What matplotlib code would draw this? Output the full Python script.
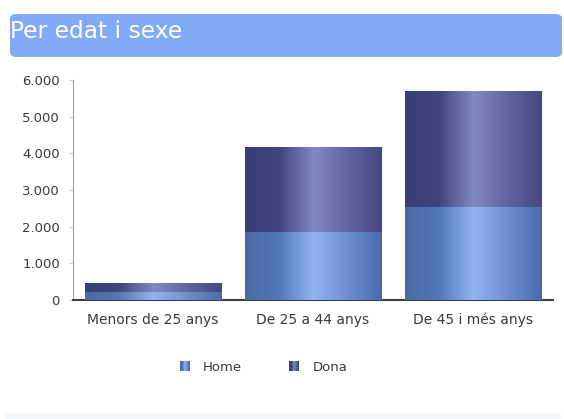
import numpy as np
import matplotlib
matplotlib.use("Agg")
import matplotlib.pyplot as plt
from matplotlib.patches import FancyBboxPatch, Rectangle
from matplotlib.legend_handler import HandlerBase
from matplotlib.colors import LinearSegmentedColormap

categories = ["Menors de 25 anys", "De 25 a 44 anys", "De 45 i més anys"]
home = [230, 1845, 2530]
dona = [240, 2300, 3150]
series_names = ["Home", "Dona"]
yticks = [0, 1000, 2000, 3000, 4000, 5000, 6000]
title = "Per edat i sexe"

home_stops = [(0.0, "#4a68a6"), (0.25, "#5478b8"), (0.5, "#93b4f2"), (0.8, "#6688c8"), (1.0, "#4c6aa8")]
dona_stops = [(0.0, "#3b3e76"), (0.25, "#40447c"), (0.5, "#8088c2"), (0.8, "#5a5f9a"), (1.0, "#44477f")]

cmap_home = LinearSegmentedColormap.from_list("home", home_stops)
cmap_dona = LinearSegmentedColormap.from_list("dona", dona_stops)

fig = plt.figure(figsize=(5.64, 4.19), dpi=100)
fig.patch.set_facecolor("white")

# Title banner
banner = FancyBboxPatch((10 / 564, 1 - 57 / 419), 552 / 564, 43 / 419,
                        boxstyle="round,pad=0,rounding_size=0.012",
                        transform=fig.transFigure, facecolor="#82aaf6",
                        edgecolor="none")
fig.patches.append(banner)
fig.text(10 / 564, 1 - 32 / 419, title, color="white", fontsize=16.8,
         va="center", ha="left", family="DejaVu Sans")

# bottom faint band
fig.patches.append(Rectangle((5 / 564, 0), 556 / 564, 6 / 419,
                             transform=fig.transFigure, facecolor="#f2f8fc",
                             edgecolor="none"))

ax = fig.add_axes([72.5 / 564, 119 / 419, 481 / 564, 220 / 419])
x = np.arange(len(categories))
width = 0.85
b1 = ax.bar(x, home, width, color="#6688c8", label=series_names[0], zorder=2)
b2 = ax.bar(x, dona, width, bottom=home, color="#5a5f9a", label=series_names[1], zorder=2)

grad = np.linspace(0, 1, 256).reshape(1, -1)
for bars, cmap in ((b1, cmap_home), (b2, cmap_dona)):
    for r in bars:
        x0, y0 = r.get_xy()
        w, h = r.get_width(), r.get_height()
        ax.imshow(grad, cmap=cmap, extent=[x0, x0 + w, y0, y0 + h],
                  aspect="auto", zorder=3, interpolation="bilinear")

ax.set_xlim(-0.5, 2.5)
ax.set_ylim(0, 6000)
ax.set_yticks(yticks)
ax.set_yticklabels([f"{v:,}".replace(",", ".") for v in yticks])
ax.set_xticks(x)
ax.set_xticklabels(categories)
ax.tick_params(axis="both", colors="#d0d0d0", labelcolor="#3a3a3a", labelsize=9.5)
ax.tick_params(axis="x", length=0, pad=9, labelsize=10)
ax.tick_params(axis="y", length=3, pad=6)
for s in ("top", "right"):
    ax.spines[s].set_visible(False)
ax.spines["left"].set_color("#a0a0a0")
ax.spines["bottom"].set_color("#404040")
ax.spines["bottom"].set_linewidth(1.5)


class GradHandler(HandlerBase):
    def __init__(self, cmap):
        super().__init__()
        self.cmap = cmap

    def create_artists(self, legend, orig_handle, xdescent, ydescent, width, height, fontsize, trans):
        n = 10
        arts = []
        side = height * 1.1
        x0 = width - side
        for i in range(n):
            r = Rectangle((x0 + i * side / n - xdescent, -ydescent - 0.05 * height), side / n + 0.1, side,
                          facecolor=self.cmap(i / (n - 1)), edgecolor="none", transform=trans)
            arts.append(r)
        return arts


leg = fig.legend([b1, b2], series_names, loc="center", bbox_to_anchor=(262 / 564, 1 - 367 / 419),
                 ncol=2, frameon=False, fontsize=9.5, handlelength=1.0, handletextpad=1.0,
                 columnspacing=3.3,
                 handler_map={b1: GradHandler(cmap_home), b2: GradHandler(cmap_dona)})
for t in leg.get_texts():
    t.set_color("#3a3a3a")

fig.savefig("out.png", dpi=100, facecolor="white")
